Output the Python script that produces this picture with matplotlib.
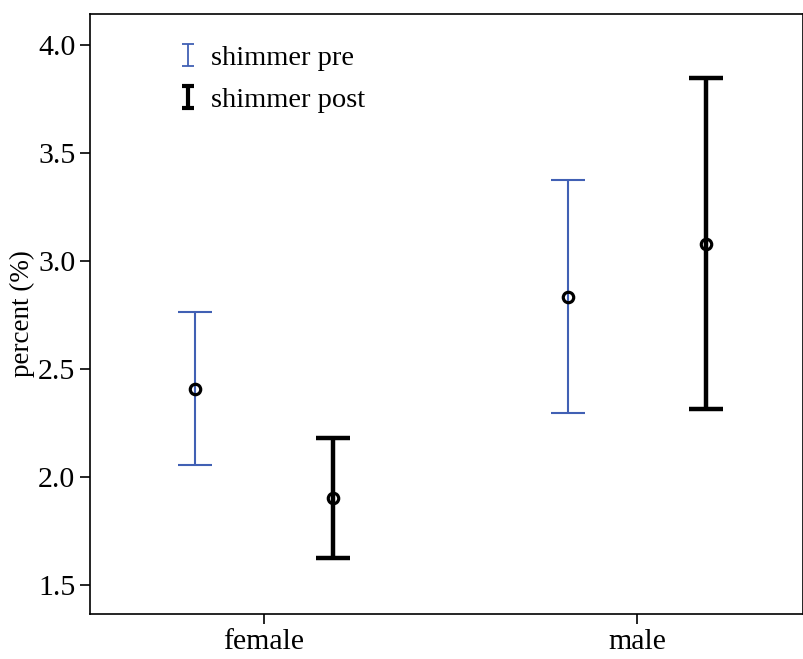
import matplotlib.pyplot as plt
from matplotlib.path import Path
from matplotlib.lines import Line2D
import numpy as np

plt.rcParams['font.family'] = ['Liberation Serif', 'DejaVu Serif']

groups = ['female', 'male']
pre_mean = [2.41, 2.835]
pre_low = [2.055, 2.295]
pre_high = [2.765, 3.375]
post_mean = [1.905, 3.08]
post_low = [1.625, 2.315]
post_high = [2.18, 3.845]

blue = '#4160b4'

fig = plt.figure(figsize=(8.04, 6.59), dpi=100)
ax = fig.add_axes([0.112, 0.068, 0.887, 0.911])

x = np.arange(len(groups))
off = 0.185

pre_mean = np.array(pre_mean)
post_mean = np.array(post_mean)
pre_err = [pre_mean - np.array(pre_low), np.array(pre_high) - pre_mean]
post_err = [post_mean - np.array(post_low), np.array(post_high) - post_mean]

ax.errorbar(x - off, pre_mean, yerr=pre_err, fmt='none', ecolor=blue,
            elinewidth=1.5, capsize=12.5, capthick=1.5)
ax.errorbar(x + off, post_mean, yerr=post_err, fmt='none', ecolor='black',
            elinewidth=3.2, capsize=12.5, capthick=3.2)
ax.plot(x - off, pre_mean, 'o', mfc='none', mec='black', ms=7.5, mew=2.3, zorder=5)
ax.plot(x + off, post_mean, 'o', mfc='none', mec='black', ms=7.5, mew=2.3, zorder=5)

ax.set_xlim(-0.466, 1.445)
ax.set_ylim(1.366, 4.1435)
ax.set_xticks(x)
ax.set_xticklabels(groups)
ax.set_yticks([1.5, 2.0, 2.5, 3.0, 3.5, 4.0])
ax.set_yticklabels(['1.5', '2.0', '2.5', '3.0', '3.5', '4.0'])
ax.tick_params(labelsize=21.5, length=7, width=1.2, color='black')
ax.set_ylabel('percent (%)', fontsize=19.5, labelpad=2)
for s in ax.spines.values():
    s.set_linewidth(1.2)

# I-shaped legend keys like the error bars
ibar = Path([(-0.5, -1), (0.5, -1), (0, -1), (0, 1), (-0.5, 1), (0.5, 1)],
            [Path.MOVETO, Path.LINETO, Path.MOVETO, Path.LINETO, Path.MOVETO, Path.LINETO])
h1 = Line2D([], [], linestyle='none', marker=ibar, markersize=16,
            mec=blue, mfc='none', mew=1.3)
h2 = Line2D([], [], linestyle='none', marker=ibar, markersize=16,
            mec='black', mfc='none', mew=3)
ax.legend([h1, h2], ['shimmer pre', 'shimmer post'], loc='upper left',
          bbox_to_anchor=(0.09, 0.99), frameon=False, fontsize=20.5,
          handlelength=0.6, handletextpad=0.5, labelspacing=0.54)

fig.savefig('out.png', dpi=100)
